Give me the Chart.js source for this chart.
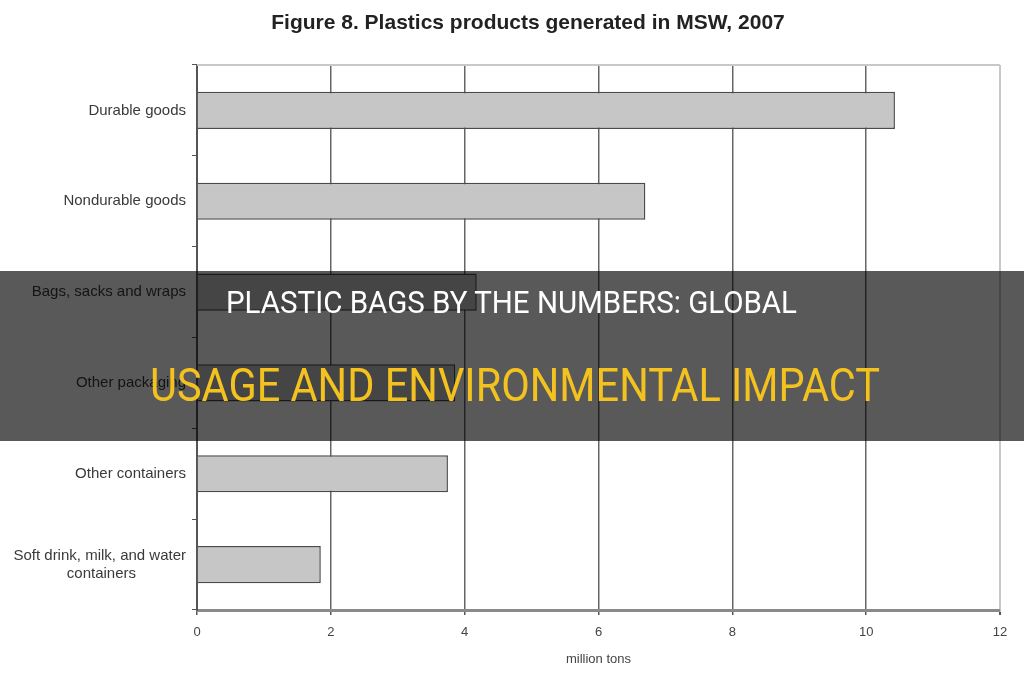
<!DOCTYPE html>
<html>
<head>
<meta charset="utf-8">
<script src="https://cdn.jsdelivr.net/npm/chart.js@4/dist/chart.umd.min.js"></script>
<style>
  body { margin: 0; background: #fff; }
  #wrap { position: relative; width: 1024px; height: 680px; overflow: hidden; }
  #band {
    position: absolute; left: 0; top: 271px; width: 1024px; height: 170px;
    background: rgba(0, 0, 0, 0.65);
  }
  .line {
    position: absolute; white-space: nowrap; line-height: 1;
    font-family: Roboto, 'Liberation Sans', sans-serif;
    transform-origin: 0 0;
  }
  #line1 { color: #fff; font-size: 31px; top: 16px; }
  #line2 { color: #f4c21f; font-size: 47px; top: 90px; }
</style>
</head>
<body>
<div id="wrap">
  <canvas id="plasticsChart" width="1024" height="680"></canvas>
  <div id="band">
    <div class="line" id="line1">PLASTIC BAGS BY THE NUMBERS: GLOBAL</div>
    <div class="line" id="line2">USAGE AND ENVIRONMENTAL IMPACT</div>
  </div>
</div>
<script>
// data
const categories = [
  'Durable goods',
  'Nondurable goods',
  'Bags, sacks and wraps',
  'Other packaging',
  'Other containers',
  ['Soft drink, milk, and water', 'containers']
];
const tons = [10.43, 6.7, 4.18, 3.86, 3.75, 1.85];
const xMin = 0;
const xMax = 12;
const xStep = 2;

const titleText = 'Figure 8. Plastics products generated in MSW, 2007';
const xTitle = 'million tons';

// figure title (sits a bit right of centre, like the scan) + light top frame line
const frame = {
  id: 'frame',
  afterDraw(chart) {
    const { ctx, chartArea } = chart;
    ctx.save();
    ctx.strokeStyle = '#c8c8c8';
    ctx.lineWidth = 2;
    ctx.beginPath();
    ctx.moveTo(chartArea.left, chartArea.top);
    ctx.lineTo(chartArea.right, chartArea.top);
    ctx.stroke();

    ctx.fillStyle = '#222';
    ctx.font = 'bold 21px "Liberation Sans"';
    ctx.textAlign = 'center';
    ctx.textBaseline = 'middle';
    ctx.fillText(titleText, 528, 23);
    ctx.restore();
  }
};

const chart = new Chart(document.getElementById('plasticsChart'), {
  type: 'bar',
  data: {
    labels: categories,
    datasets: [{
      data: tons,
      backgroundColor: '#c6c6c6',
      borderColor: '#4a4a4a',
      borderWidth: 1.5,
      barPercentage: 0.41,
      categoryPercentage: 1
    }]
  },
  plugins: [frame],
  options: {
    indexAxis: 'y',
    responsive: false,
    animation: false,
    layout: { padding: { left: 0, right: 24, top: 65, bottom: 0 } },
    plugins: {
      legend: { display: false },
      tooltip: { enabled: false }
    },
    scales: {
      x: {
        min: xMin,
        max: xMax,
        ticks: {
          stepSize: xStep,
          color: '#444',
          padding: 10,
          font: { family: 'Liberation Sans', size: 13 }
        },
        grid: {
          color: ctx => ctx.tick && ctx.tick.value === xMax ? '#c8c8c8' : '#666',
          lineWidth: ctx => ctx.tick && ctx.tick.value === xMax ? 2 : 1.5,
          tickColor: '#555',
          tickLength: 5
        },
        border: { color: '#8a8a8a', width: 3 },
        title: {
          display: true,
          text: xTitle,
          color: '#444',
          font: { family: 'Liberation Sans', size: 13 },
          padding: { top: 4, bottom: 13 }
        },
        afterFit: scale => { scale.height = 70; }
      },
      y: {
        ticks: {
          color: '#3a3a3a',
          padding: 6,
          font: { family: 'Liberation Sans', size: 15 },
          callback: function (value) {
            const label = this.getLabelForValue(value);
            // second line of the last label sits centred under the first
            if (Array.isArray(label)) return [label[0], label[1] + ' '.repeat(12)];
            return label;
          }
        },
        grid: {
          drawOnChartArea: false,
          offset: true,
          tickLength: 5,
          tickColor: '#555'
        },
        border: { color: '#555', width: 2 },
        afterFit: scale => { scale.width = 197; }
      }
    }
  }
});

// squeeze the overlay headline to the width it has in the figure
function fitLine(id, left, width) {
  const el = document.getElementById(id);
  const w = el.getBoundingClientRect().width;
  el.style.left = left + 'px';
  el.style.transform = 'scaleX(' + (width / w) + ')';
}
fitLine('line1', 226, 571);
fitLine('line2', 150, 730);
</script>
</body>
</html>
